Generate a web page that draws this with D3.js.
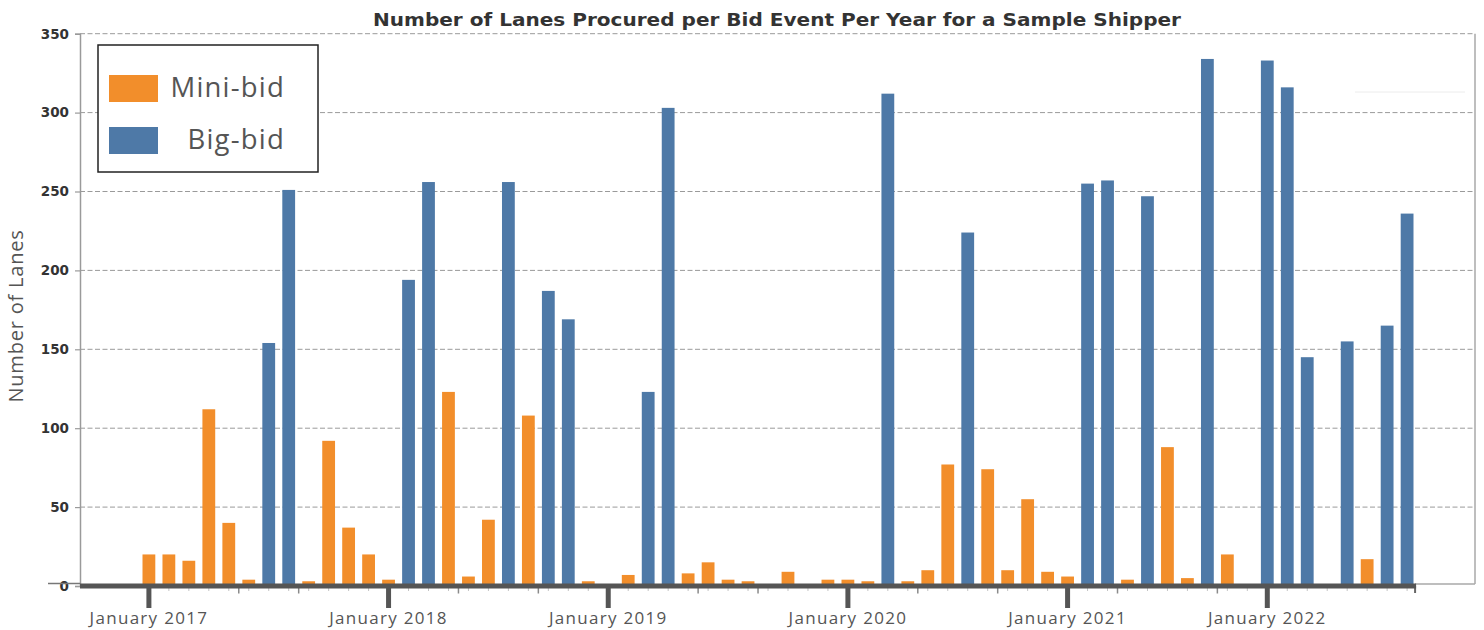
<!DOCTYPE html>
<html>
<head>
<meta charset="utf-8">
<script src="https://cdn.jsdelivr.net/npm/d3@7/dist/d3.min.js"></script>
<style>
  html, body { margin: 0; padding: 0; background: #fff; }
  svg { display: block; }
</style>
</head>
<body>
<svg id="chart" width="1484" height="630"></svg>
<script>
// ---- Data ----
const events = d3.range(64); // bid-event slots in chronological order
const miniBid = [20, 20, 16, 112, 40, 4, null, null, 3, 92, 37, 20, 4, null, null, 123,
                 6, 42, null, 108, null, null, 3, null, 7, null, null, 8, 15, 4, 3, null,
                 9, null, 4, 4, 3, null, 3, 10, 77, null, 74, 10, 55, 9, 6, null,
                 null, 4, null, 88, 5, null, 20, null, null, null, null, null, null, 17, null, null];
const bigBid  = [null, null, null, null, null, null, 154, 251, null, null, null, null, null, 194, 256, null,
                 null, null, 256, null, 187, 169, null, null, null, 123, 303, null, null, null, null, null,
                 null, null, null, null, null, 312, null, null, null, 224, null, null, null, null, null, 255,
                 257, null, 247, null, null, 334, null, null, 333, 316, 145, null, 155, null, 165, 236];
const yearTickIdx = [0, 12, 23, 35, 46, 56];
const yearTickLabels = ["January 2017", "January 2018", "January 2019", "January 2020", "January 2021", "January 2022"];
const midTickIdx = [4.5, 7.5, 15.5, 19.5, 27.5, 30.5, 38.5, 42.5, 48.5, 53.5];
const yTicks = [0, 50, 100, 150, 200, 250, 300, 350];
const seriesNames = ["Mini-bid", "Big-bid"];
const seriesColors = ["#f28e2b", "#4e79a7"];
const titleText = "Number of Lanes Procured per Bid Event Per Year for a Sample Shipper";
const yLabel = "Number of Lanes";

// ---- Layout ----
const svg = d3.select("#chart");
const plotL = 80, plotR = 1475, plotT = 33.7, plotB = 586;
const x = d3.scaleLinear().domain([-3.45, 66.4]).range([plotL, plotR]);
const y = d3.scaleLinear().domain([0, 350]).range([plotB, plotT]);
const barW = 12.8;
const roundFont = "'Open Sans', 'Noto Sans', sans-serif";

svg.append("rect").attr("width", 1484).attr("height", 630).attr("fill", "#fff");

// grid lines
svg.append("g").selectAll("line").data(yTicks.filter(d => d > 0)).join("line")
  .attr("x1", plotL).attr("x2", plotR)
  .attr("y1", d => y(d)).attr("y2", d => y(d))
  .attr("stroke", "#9a9a9a").attr("stroke-width", 1).attr("stroke-dasharray", "5,2.5");

// right border and bottom-right segment
svg.append("line").attr("x1", plotR).attr("x2", plotR).attr("y1", plotT).attr("y2", plotB - 2)
  .attr("stroke", "#a8a8a8").attr("stroke-width", 1.5);
svg.append("line").attr("x1", x(63.4)).attr("x2", plotR).attr("y1", plotB - 2).attr("y2", plotB - 2)
  .attr("stroke", "#a8a8a8").attr("stroke-width", 1.5);

// faint artifact line
svg.append("line").attr("x1", 1355).attr("x2", 1465).attr("y1", 92).attr("y2", 92)
  .attr("stroke", "#ececec").attr("stroke-width", 1);

// y axis
const yAxis = svg.append("g").attr("transform", `translate(${plotL},0)`)
  .call(d3.axisLeft(y).tickValues(yTicks).tickSize(5).tickPadding(6).tickFormat(d3.format("d")));
yAxis.select(".domain").attr("stroke", "#9a9a9a").attr("stroke-width", 1.5);
yAxis.selectAll(".tick line").attr("stroke", "#9a9a9a").attr("stroke-width", 1.2);
yAxis.selectAll(".tick text")
  .attr("font-family", "'DejaVu Sans', sans-serif").attr("font-weight", "bold")
  .attr("font-size", 13.5).attr("fill", "#333");
// longer zero tick
svg.append("line").attr("x1", 48).attr("x2", plotL).attr("y1", y(0) - 2.5).attr("y2", y(0) - 2.5)
  .attr("stroke", "#777").attr("stroke-width", 1.5);

// bars
const barsData = [];
events.forEach((e, i) => {
  if (miniBid[i] != null) barsData.push({ i: e, v: miniBid[i], s: 0 });
  if (bigBid[i] != null) barsData.push({ i: e, v: bigBid[i], s: 1 });
});
svg.append("g").selectAll("rect").data(barsData).join("rect")
  .attr("x", d => x(d.i) - barW / 2)
  .attr("width", barW)
  .attr("y", d => y(d.v))
  .attr("height", d => y(0) - y(d.v))
  .attr("fill", d => seriesColors[d.s]);

// x axis (thick)
const xAxisG = svg.append("g");
xAxisG.selectAll("line.minor").data(events).join("line").attr("class", "minor")
  .attr("x1", d => x(d)).attr("x2", d => x(d)).attr("y1", plotB + 2).attr("y2", plotB + 5)
  .attr("stroke", "#c4c4c4").attr("stroke-width", 1);
xAxisG.selectAll("line.mid").data(midTickIdx).join("line").attr("class", "mid")
  .attr("x1", d => x(d)).attr("x2", d => x(d)).attr("y1", plotB + 2).attr("y2", plotB + 7.5)
  .attr("stroke", "#8a8a8a").attr("stroke-width", 1.5);
xAxisG.append("line").attr("x1", x(63.4)).attr("x2", x(63.4)).attr("y1", plotB).attr("y2", plotB + 7)
  .attr("stroke", "#666").attr("stroke-width", 2);
xAxisG.append("line").attr("x1", plotL).attr("x2", x(63.45)).attr("y1", plotB).attr("y2", plotB)
  .attr("stroke", "#555").attr("stroke-width", 5);
xAxisG.selectAll("line.major").data(yearTickIdx).join("line").attr("class", "major")
  .attr("x1", d => x(d)).attr("x2", d => x(d)).attr("y1", plotB).attr("y2", plotB + 22)
  .attr("stroke", "#555").attr("stroke-width", 5);
xAxisG.selectAll("text").data(yearTickIdx).join("text")
  .attr("x", d => x(d)).attr("y", 624)
  .attr("text-anchor", "middle")
  .attr("font-family", roundFont).attr("font-size", 17).attr("letter-spacing", 1.3)
  .attr("fill", "#555")
  .text((d, k) => yearTickLabels[k]);

// title
svg.append("text").attr("x", 777).attr("y", 26).attr("text-anchor", "middle")
  .attr("font-family", "'DejaVu Sans', sans-serif").attr("font-weight", "bold")
  .attr("font-size", 18.5).attr("fill", "#333")
  .attr("textLength", 808).attr("lengthAdjust", "spacingAndGlyphs")
  .text(titleText);

// y label
svg.append("text").attr("transform", "translate(23,316) rotate(-90)")
  .attr("text-anchor", "middle")
  .attr("font-family", roundFont).attr("font-size", 20).attr("letter-spacing", 0.8)
  .attr("fill", "#555").text(yLabel);

// legend
const lg = svg.append("g");
lg.append("rect").attr("x", 98).attr("y", 45).attr("width", 220).attr("height", 127)
  .attr("fill", "#fff").attr("stroke", "#222").attr("stroke-width", 1.5);
const legendRows = [{ y: 75, base: 97 }, { y: 127, base: 149 }];
seriesNames.forEach((name, k) => {
  lg.append("rect").attr("x", 109).attr("y", legendRows[k].y).attr("width", 49).attr("height", 27)
    .attr("fill", seriesColors[k]);
  lg.append("text").attr("x", 285).attr("y", legendRows[k].base).attr("text-anchor", "end")
    .attr("font-family", roundFont).attr("font-size", 27.5).attr("letter-spacing", 1.2)
    .attr("fill", "#555").text(name);
});
</script>
</body>
</html>
